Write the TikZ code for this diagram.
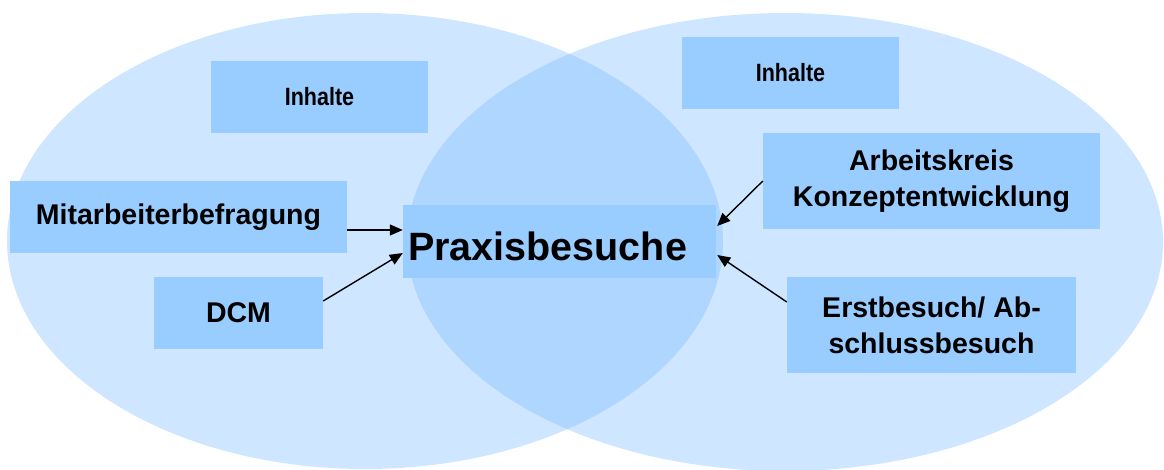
\documentclass[tikz,border=0pt]{standalone}
\usepackage{fontspec}
\setmainfont{Liberation Sans}
\newfontfamily\narrowsans[FakeStretch=0.86]{Liberation Sans}
\usetikzlibrary{arrows.meta,calc}

\definecolor{boxblue}{RGB}{153,204,255}
\definecolor{setblue}{RGB}{120,185,255}

\tikzset{
  setarea/.style={fill=setblue, fill opacity=0.36, draw=none},
  box/.style={fill=boxblue, draw=none, inner sep=0pt, align=center,
    font=\bfseries\fontsize{28.5}{36}\selectfont},
  smallbox/.style={box, font=\narrowsans\bfseries\fontsize{25}{30}\selectfont},
  arr/.style={line width=1.4pt, -{Triangle[length=13pt,width=11pt]}}
}

\begin{document}
\begin{tikzpicture}[x=1pt,y=-1pt]
\useasboundingbox (0,0) rectangle (1164,470);

% the two overlapping sets
\fill[setarea] (365,241) ellipse [x radius=358, y radius=228];
\fill[setarea] (785,242) ellipse [x radius=378, y radius=229];

% boxes
\node[smallbox, minimum width=217, minimum height=72] (inhL) at (319.5,97) {Inhalte};
\node[smallbox, minimum width=217, minimum height=72] (inhR) at (790.5,73) {Inhalte};
\node[box, minimum width=337, minimum height=72] (mit) at (178.5,217) {Mitarbeiterbefragung};
\node[box, minimum width=169, minimum height=72] (dcm) at (238.5,313) {DCM};
\node[box, minimum width=313, minimum height=73] (prax) at (559.5,241.5) {};
\node[anchor=base west, inner sep=0pt, font=\bfseries\fontsize{39.5}{44}\selectfont]
  (praxtext) at (408,261) {Praxisbesuche};
\node[box, minimum width=337, minimum height=96] (ak) at (931.5,181) {Arbeitskreis\\Konzeptentwicklung};
\node[box, minimum width=289, minimum height=96] (eb) at (931.5,325) {Erstbesuch/ Ab-\\schlussbesuch};

% connectors
\draw[arr] ($(mit.east)+(0,13)$) -- ($(prax.west)+(0,-11.5)$);
\draw[arr] ($(dcm.east)+(0,-12)$) -- ($(prax.west)+(0,11.5)$);
\draw[arr] (ak.west) -- ($(prax.east)+(1,-15.5)$);
\draw[arr] ($(eb.west)+(0,-23)$) -- ($(prax.east)+(1,13.5)$);
\end{tikzpicture}
\end{document}
